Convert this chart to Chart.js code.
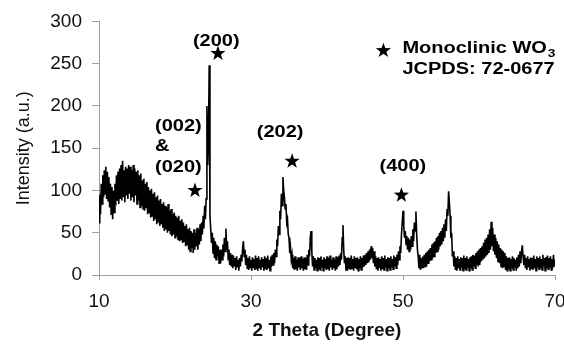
<!DOCTYPE html>
<html>
<head>
<meta charset="utf-8">
<script src="https://cdn.jsdelivr.net/npm/chart.js@4.4.1/dist/chart.umd.min.js"></script>
<style>
  html, body { margin: 0; padding: 0; background: #fff; }
  #wrap { width: 564px; height: 345px; }
</style>
</head>
<body>
<div id="wrap"><canvas id="xrd" width="564" height="345"></canvas></div>
<script>
'use strict';

// scan grid, 2 theta in degrees
var START_ANGLE = 10;
var STEP_ANGLE = 0.1;

// intensity (a.u.), one row per degree (10.0 .. 70.0)
var intensity = [
  62, 95, 72, 108, 84, 118, 92, 124, 96, 128,     // 10
  90, 122, 88, 116, 80, 108, 72, 104, 66, 100,    // 11
  74, 108, 82, 118, 88, 122, 84, 126, 90, 130,    // 12
  88, 135, 92, 124, 86, 128, 94, 126, 90, 130,    // 13
  96, 128, 88, 124, 92, 130, 86, 126, 94, 122,    // 14
  84, 124, 88, 118, 80, 120, 82, 112, 78, 114,    // 15
  76, 108, 80, 110, 72, 104, 74, 100, 68, 102,    // 16
  70, 96, 64, 98, 66, 92, 60, 94, 62, 88,         // 17
  58, 90, 60, 84, 56, 86, 52, 82, 54, 80,         // 18
  50, 84, 52, 76, 48, 78, 46, 72, 48, 74,         // 19
  44, 70, 46, 68, 42, 70, 40, 64, 42, 66,         // 20
  38, 62, 40, 58, 34, 60, 36, 54, 30, 56,         // 21
  28, 52, 32, 50, 26, 54, 30, 50, 34, 56,         // 22
  30, 54, 36, 60, 40, 62, 48, 70, 55, 82,         // 23
  66, 90, 200, 130, 160, 248, 70, 55, 38, 50,     // 24
  26, 44, 20, 40, 18, 36, 22, 34, 14, 30,         // 25
  14, 30, 18, 36, 22, 44, 28, 55, 30, 40,         // 26
  18, 30, 12, 26, 10, 24, 8, 22, 10, 20,          // 27
  6, 22, 9, 18, 5, 20, 10, 24, 16, 32,            // 28
  40, 22, 30, 12, 24, 8, 20, 6, 22, 8,            // 29
  18, 5, 21, 8, 19, 6, 23, 7, 20, 5,              // 30
  22, 8, 18, 6, 21, 9, 19, 5, 22, 7,              // 31
  20, 6, 23, 8, 18, 5, 22, 10, 24, 12,            // 32
  26, 14, 30, 22, 42, 34, 58, 48, 76, 66,         // 33
  96, 82, 116, 100, 92, 78, 84, 62, 66, 48,       // 34
  44, 26, 32, 18, 24, 8, 20, 6, 22, 7,            // 35
  18, 5, 21, 9, 20, 6, 22, 8, 19, 5,              // 36
  21, 7, 20, 6, 24, 12, 30, 22, 44, 52,           // 37
  28, 10, 22, 6, 20, 8, 18, 5, 21, 7,             // 38
  20, 6, 22, 9, 18, 5, 21, 8, 19, 6,              // 39
  22, 7, 20, 5, 23, 9, 18, 6, 21, 8,              // 40
  19, 5, 22, 7, 21, 10, 23, 12, 26, 18,           // 41
  44, 59, 30, 14, 22, 6, 20, 5, 21, 8,            // 42
  20, 6, 23, 8, 19, 5, 22, 9, 20, 7,              // 43
  21, 5, 19, 8, 22, 6, 20, 9, 23, 10,             // 44
  24, 12, 26, 14, 28, 15, 30, 18, 34, 20,         // 45
  32, 14, 28, 10, 22, 7, 20, 5, 21, 8,            // 46
  19, 5, 22, 7, 20, 6, 23, 9, 19, 5,              // 47
  21, 8, 20, 6, 22, 9, 19, 7, 23, 10,             // 48
  21, 8, 24, 12, 28, 18, 34, 26, 48, 62,          // 49
  76, 58, 44, 52, 36, 46, 30, 44, 28, 42,         // 50
  30, 46, 34, 54, 40, 62, 52, 75, 48, 30,         // 51
  22, 8, 24, 6, 20, 9, 22, 8, 24, 10,             // 52
  26, 10, 28, 14, 30, 16, 32, 18, 36, 20,         // 53
  38, 22, 40, 26, 44, 28, 46, 30, 50, 34,         // 54
  52, 36, 56, 40, 60, 44, 66, 52, 78, 70,         // 55
  99, 86, 70, 44, 50, 22, 28, 10, 22, 6,          // 56
  20, 5, 22, 8, 19, 6, 21, 9, 20, 5,              // 57
  23, 7, 20, 6, 22, 9, 19, 5, 21, 8,              // 58
  22, 6, 24, 10, 23, 8, 26, 12, 28, 10,           // 59
  30, 12, 32, 16, 34, 18, 38, 20, 42, 22,         // 60
  44, 24, 48, 26, 54, 30, 63, 34, 56, 28,         // 61
  48, 24, 44, 20, 40, 16, 36, 14, 32, 10,         // 62
  30, 8, 28, 10, 26, 6, 22, 5, 20, 7,             // 63
  21, 5, 19, 8, 22, 6, 20, 9, 18, 5,              // 64
  21, 8, 24, 10, 28, 14, 28, 35, 22, 12,          // 65
  24, 8, 20, 6, 22, 9, 19, 5, 21, 7,              // 66
  20, 6, 23, 8, 19, 5, 22, 9, 20, 7,              // 67
  22, 8, 19, 6, 24, 10, 20, 5, 21, 8,             // 68
  23, 7, 20, 9, 22, 6, 19, 8, 24, 10,             // 69
  18                                              // 70
];

var xTicks = [10, 30, 50, 70];
var yTicks = [0, 50, 100, 150, 200, 250, 300];

// reflections marked with a star
var peakNames = [['(200)'], ['(002)', '&', '(020)'], ['(202)'], ['(400)']];
var starAngle = [25.65, 22.63, 35.41, 49.79];
var starIntensity = [262, 100, 134.5, 94.4];

var FONT = '"Liberation Sans", Arial, sans-serif';
var STRETCH = 1.25;

// where the hkl labels sit (data units) and how they are aligned
var labelSpots = [
  { x: 25.43, y: [276], align: 'center' },
  { x: 17.37, y: [176, 152, 127], align: 'left' },
  { x: 33.83, y: [169], align: 'center' },
  { x: 49.98, y: [128.6], align: 'center' }
];
var legendSpot = { starX: 47.42, starY: 265.4, textX: 49.92, line1: 267.7, line2: 242.9 };

var points = intensity.map(function (v, i) {
  return { x: Math.round((START_ANGLE + i * STEP_ANGLE) * 10) / 10, y: v };
});

function drawStar(ctx, cx, cy, r) {
  ctx.beginPath();
  for (var i = 0; i < 10; i++) {
    var rad = i % 2 === 0 ? r : r * 0.4;
    var a = -Math.PI / 2 + i * Math.PI / 5;
    ctx.lineTo(cx + rad * Math.cos(a), cy + rad * Math.sin(a));
  }
  ctx.closePath();
  ctx.fill();
}

function wideText(ctx, text, x, y, align) {
  var w = ctx.measureText(text).width * STRETCH;
  var left = align === 'center' ? x - w / 2 : x;
  ctx.save();
  ctx.translate(left, y);
  ctx.scale(STRETCH, 1);
  ctx.textAlign = 'left';
  ctx.textBaseline = 'middle';
  ctx.fillText(text, 0, 0);
  ctx.restore();
  return left + w;
}

var markers = {
  id: 'markers',
  afterDatasetsDraw: function (chart) {
    var ctx = chart.ctx;
    var sx = chart.scales.x, sy = chart.scales.y;
    ctx.save();
    ctx.fillStyle = '#000';
    starAngle.forEach(function (a, i) {
      drawStar(ctx, sx.getPixelForValue(a), sy.getPixelForValue(starIntensity[i]), 8);
    });
    ctx.font = 'bold 16px ' + FONT;
    peakNames.forEach(function (lines, i) {
      var spot = labelSpots[i];
      lines.forEach(function (t, j) {
        wideText(ctx, t, sx.getPixelForValue(spot.x), sy.getPixelForValue(spot.y[j]), spot.align);
      });
    });

    // legend box, top right
    drawStar(ctx, sx.getPixelForValue(legendSpot.starX), sy.getPixelForValue(legendSpot.starY), 8);
    var tx = sx.getPixelForValue(legendSpot.textX);
    var y1 = sy.getPixelForValue(legendSpot.line1);
    var end = wideText(ctx, 'Monoclinic WO', tx, y1, 'left');
    ctx.font = 'bold 11px ' + FONT;
    wideText(ctx, '3', end + 1, y1 + 5, 'left');
    ctx.font = 'bold 16px ' + FONT;
    wideText(ctx, 'JCPDS: 72-0677', tx, sy.getPixelForValue(legendSpot.line2), 'left');
    ctx.restore();
  }
};

var axisGrey = '#a0a0a0';

new Chart(document.getElementById('xrd'), {
  type: 'line',
  data: {
    datasets: [{
      data: points,
      borderColor: '#000',
      borderWidth: 1.6,
      pointRadius: 0,
      tension: 0,
      fill: false
    }]
  },
  options: {
    responsive: false,
    animation: false,
    devicePixelRatio: 1,
    layout: { padding: { top: 21, right: 0, left: 0, bottom: 0 } },
    plugins: { legend: { display: false }, tooltip: { enabled: false } },
    scales: {
      x: {
        type: 'linear',
        min: 10,
        max: 70,
        afterBuildTicks: function (scale) {
          scale.ticks = xTicks.map(function (v) { return { value: v }; });
        },
        afterFit: function (scale) {
          scale.height = 70;
          scale.paddingRight = 9;
        },
        grid: { drawOnChartArea: false, drawTicks: true, tickLength: 5, color: axisGrey },
        border: { display: true, color: axisGrey, width: 1 },
        ticks: { color: '#111', font: { family: FONT, size: 19 }, padding: 10, maxRotation: 0 },
        title: {
          display: true,
          text: '2 Theta (Degree)',
          color: '#111',
          font: { family: FONT, size: 19, weight: 'bold' },
          padding: { top: 0, bottom: 3 }
        }
      },
      y: {
        min: 0,
        max: 300,
        afterBuildTicks: function (scale) {
          scale.ticks = yTicks.map(function (v) { return { value: v }; });
        },
        afterFit: function (scale) { scale.width = 99; },
        grid: { drawOnChartArea: false, drawTicks: true, tickLength: 7, color: axisGrey },
        border: { display: true, color: axisGrey, width: 1 },
        ticks: { color: '#111', font: { family: FONT, size: 19 }, padding: 10 },
        title: {
          display: true,
          text: 'Intensity (a.u.)',
          color: '#111',
          font: { family: FONT, size: 18 },
          padding: { top: 13, bottom: 0 }
        }
      }
    }
  },
  plugins: [markers]
});
</script>
</body>
</html>
